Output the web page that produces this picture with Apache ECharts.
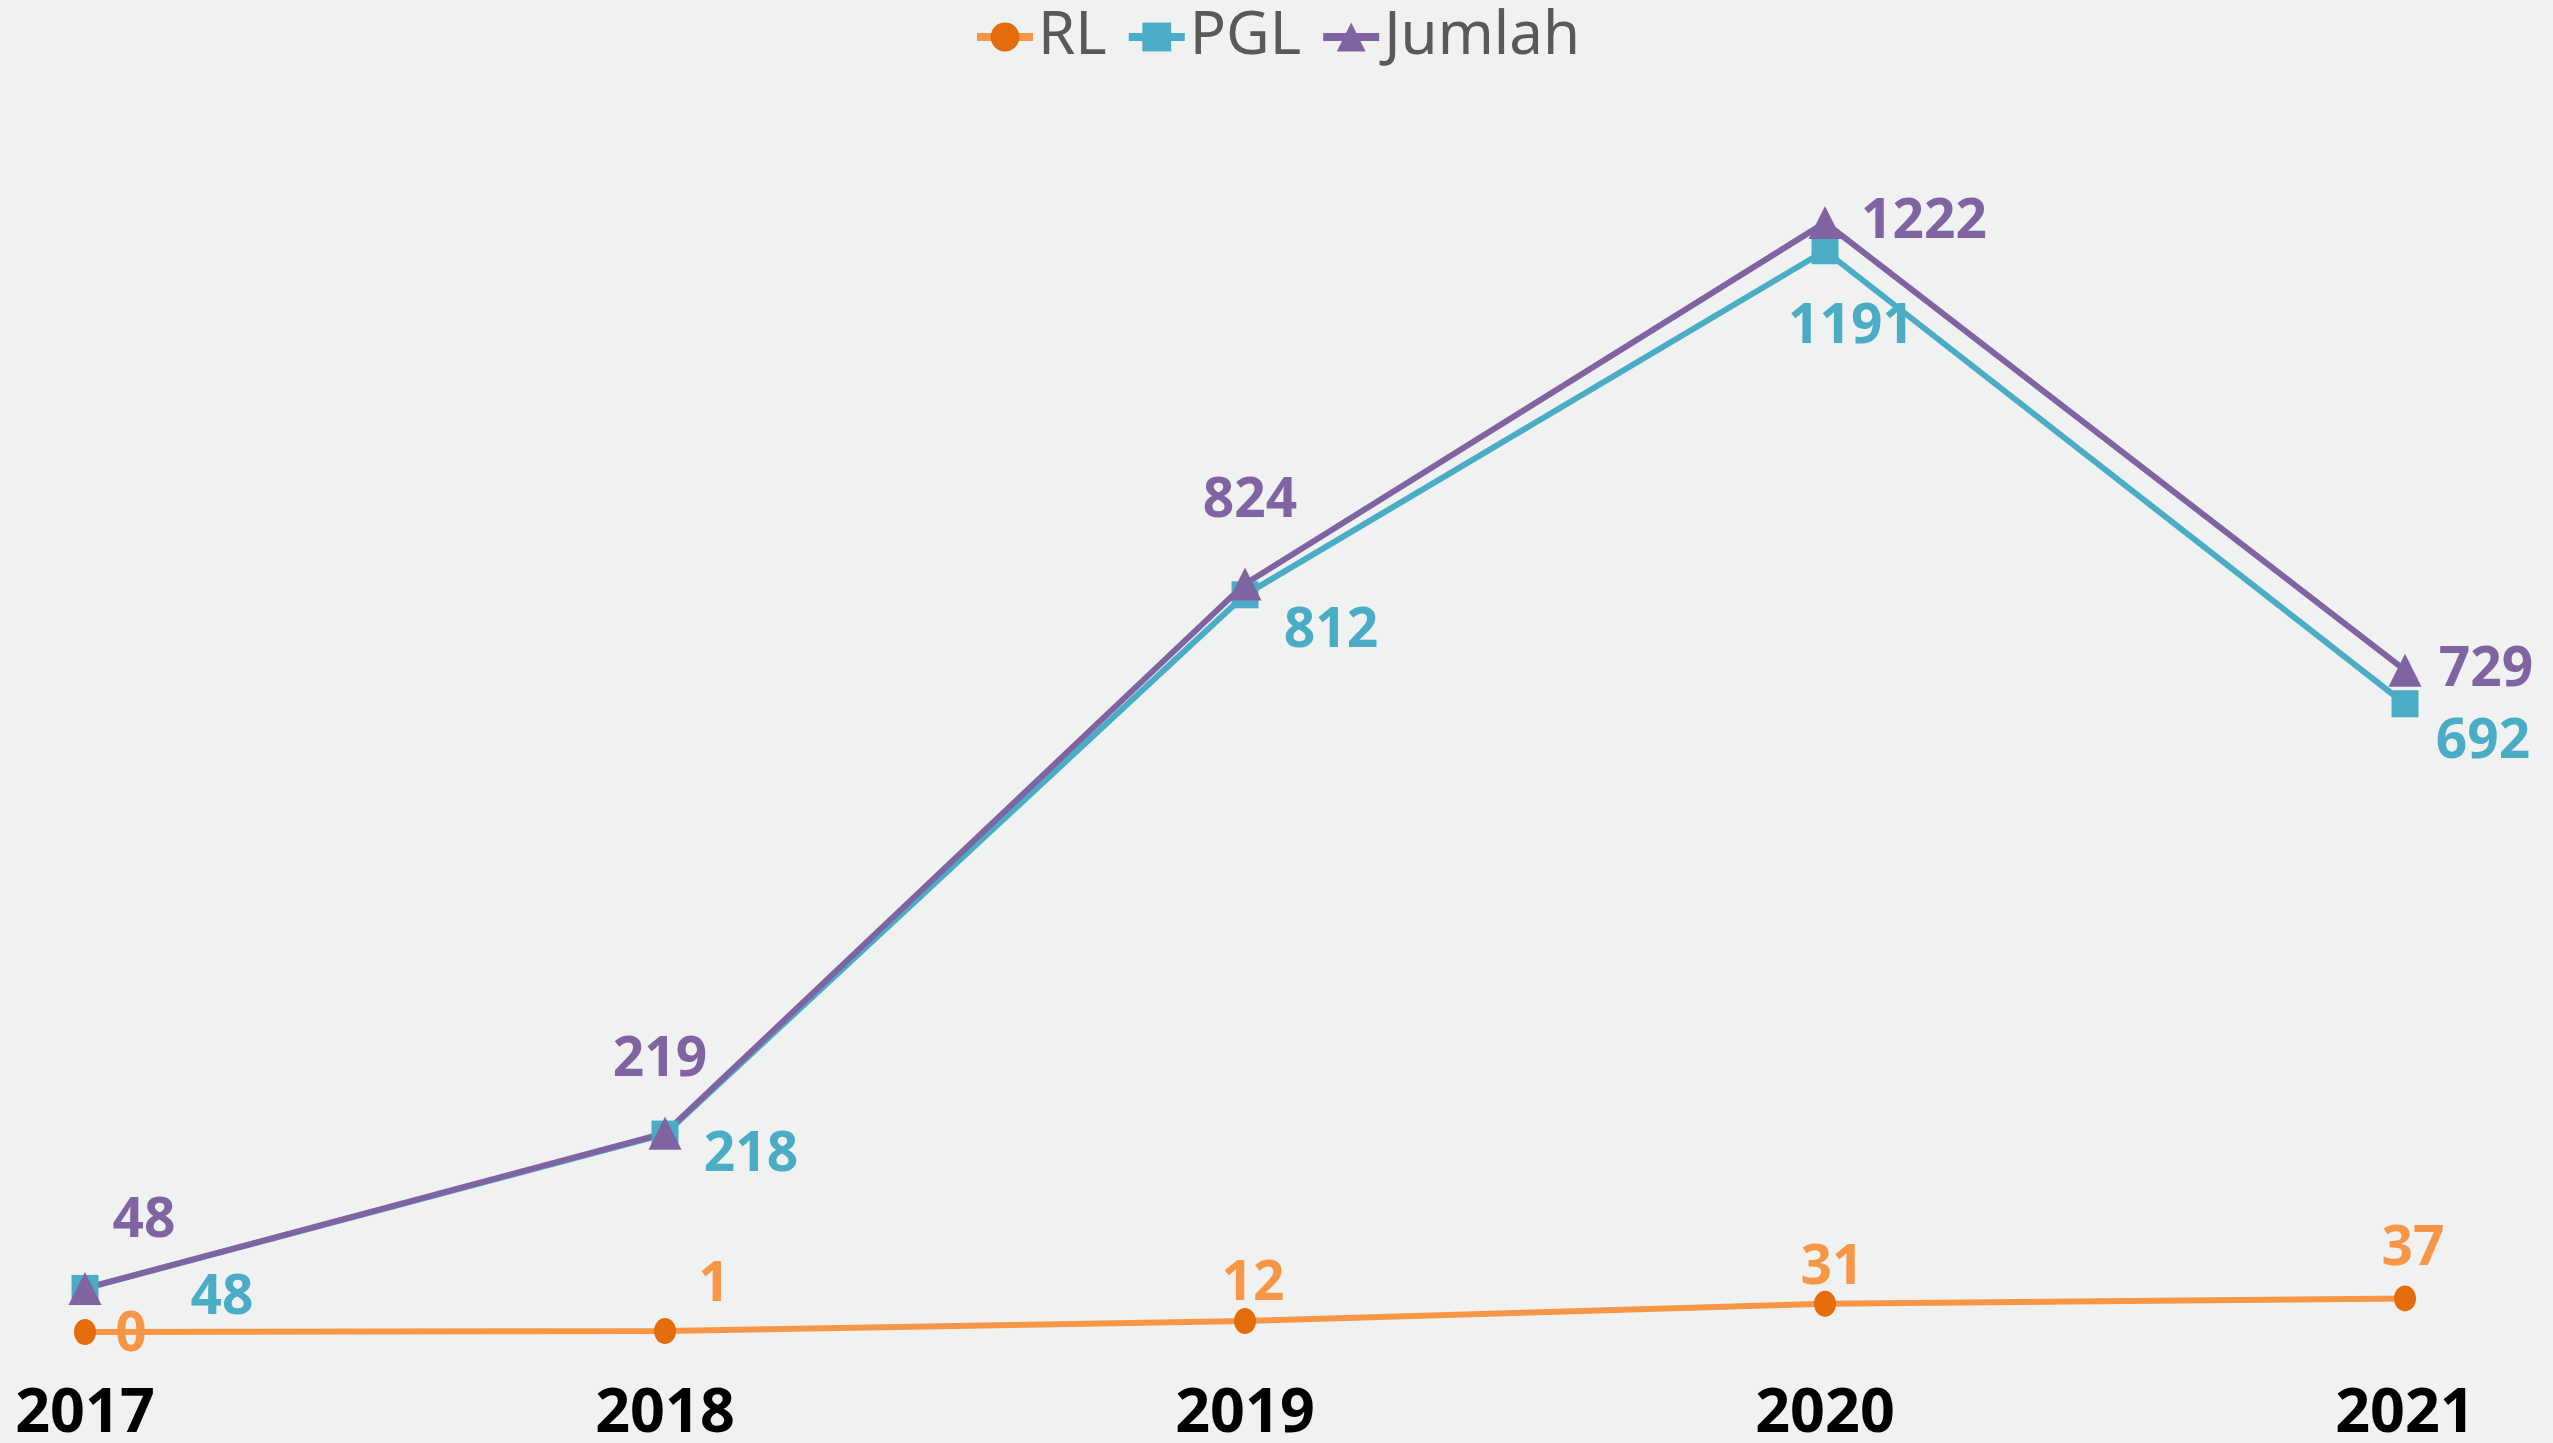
<!DOCTYPE html>
<html>
<head>
<meta charset="utf-8">
<script src="https://cdn.jsdelivr.net/npm/echarts@6/dist/echarts.min.js"></script>
<style>
  html, body { margin: 0; padding: 0; background: #F0F2F1; }
  #main { width: 2553px; height: 1443px; }
</style>
</head>
<body>
<div id="main"></div>
<script>
// data
var years = ['2017', '2018', '2019', '2020', '2021'];
var rl = [0, 1, 12, 31, 37];
var pgl = [48, 218, 812, 1191, 692];
var jumlah = [48, 219, 824, 1222, 729];

// label offsets per point (px)
var rlOff = [[46, 3], [49, -46], [8, -37], [7, -36], [8, -49]];
var pglOff = [[137, 10], [86, 21], [86, 37], [26, 77], [78, 39]];
var jmlOff = [[59, -67], [-5, -73], [5, -83], [99, 0], [81, 0]];

function withLabels(vals, offs, color) {
    return vals.map(function (v, i) {
        return {
            value: v,
            label: {
                show: true, position: 'inside', offset: offs[i],
                color: color, fontSize: 55, fontWeight: 'bold',
                fontFamily: 'Noto Sans'
            }
        };
    });
}

var chart = echarts.init(document.getElementById('main'));
chart.setOption({
    backgroundColor: '#F0F2F1',
    animation: false,
    legend: {
        top: 2, left: 'center',
        itemWidth: 56, itemHeight: 36, itemGap: 18,
        lineStyle: { width: 8 },
        textStyle: { color: '#595959', fontSize: 60, fontFamily: 'Noto Sans' },
        data: ['RL', 'PGL', 'Jumlah']
    },
    grid: { left: 85, right: 148, top: 61, bottom: 111, outerBoundsMode: 'none' },
    xAxis: {
        type: 'category', data: years, boundaryGap: false,
        axisLine: { show: false }, axisTick: { show: false },
        axisLabel: { color: '#000', fontSize: 61, fontWeight: 'bold', fontFamily: 'Noto Sans', margin: 52 }
    },
    yAxis: { type: 'value', min: 0, max: 1400, show: false, splitLine: { show: false } },
    series: [
        {
            name: 'RL', type: 'line', data: withLabels(rl, rlOff, '#F79646'),
            symbol: 'circle', symbolSize: [22, 26],
            lineStyle: { color: '#F79646', width: 6 },
            itemStyle: { color: '#E46C0A' }
        },
        {
            name: 'PGL', type: 'line', data: withLabels(pgl, pglOff, '#4BACC6'),
            symbol: 'rect', symbolSize: 27,
            lineStyle: { color: '#4BACC6', width: 6 },
            itemStyle: { color: '#4BACC6' }
        },
        {
            name: 'Jumlah', type: 'line', data: withLabels(jumlah, jmlOff, '#8064A2'),
            symbol: 'triangle', symbolSize: 33,
            lineStyle: { color: '#8064A2', width: 6 },
            itemStyle: { color: '#8064A2' }
        }
    ]
});
</script>
</body>
</html>
